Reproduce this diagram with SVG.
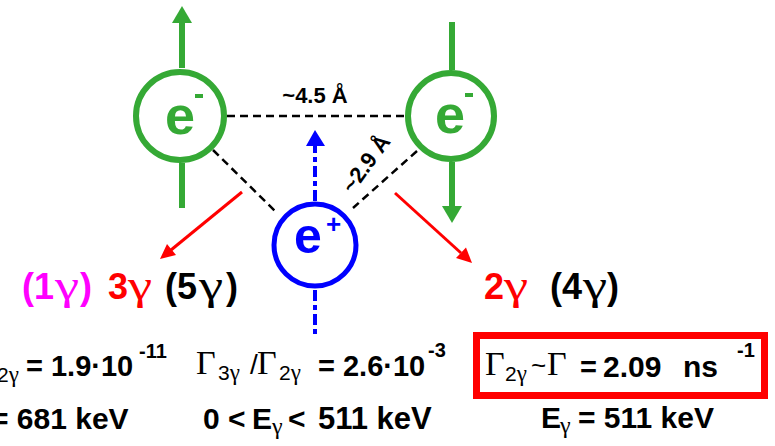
<svg xmlns="http://www.w3.org/2000/svg" width="775" height="446" viewBox="0 0 775 446">
<defs>
<style>
.sans{font-family:"Liberation Sans",Arial,sans-serif;}
.b{font-weight:bold;}
.ser{font-family:"Liberation Serif","Times New Roman",serif;font-weight:normal;}
.dash{stroke:#000;stroke-width:2.5;stroke-dasharray:8,5;fill:none;}
.gline{stroke:#35a935;stroke-width:6;fill:none;}
.gfill{fill:#35a935;}
.bline{stroke:#0000ff;stroke-width:4;stroke-dasharray:11,4,5,4;}
.rline{stroke:#ff0000;stroke-width:3;}
.big{font-size:36px;}
.bigg{font-size:42px;}
</style>
</defs>
<rect width="775" height="446" fill="#fff"/>

<g id="connectors">
<line class="dash" x1="227" y1="116" x2="405" y2="116"/>
<line class="dash" x1="213" y1="150" x2="275" y2="211"/>
<line class="dash" x1="417" y1="151" x2="353" y2="208"/>
<line class="gline" x1="182" y1="68" x2="182" y2="22"/>
<path class="gfill" d="M172,23 L182,6 L192,23 Z"/>
<line class="gline" x1="182" y1="163" x2="182" y2="208"/>
<line class="gline" x1="452" y1="22" x2="452" y2="70"/>
<line class="gline" x1="452" y1="162" x2="452" y2="207"/>
<path class="gfill" d="M442,206 L452,223 L462,206 Z"/>
<line class="bline" x1="315" y1="201" x2="315" y2="145"/>
<path d="M306,146 L315,130 L325,146 Z" fill="#0000ff"/>
<line class="bline" x1="315" y1="290" x2="315" y2="337"/>
<line class="rline" x1="242" y1="192" x2="171" y2="250"/>
<path d="M176,255 L160,259 L167,244 Z" fill="#ff0000"/>
<line class="rline" x1="395" y1="193" x2="461" y2="253"/>
<path d="M456,258 L472,263 L466,247.5 Z" fill="#ff0000"/>
<text class="sans b" x="315" y="103" font-size="22" text-anchor="middle">~4.5 Å</text>
<text class="sans b" font-size="22" text-anchor="middle" transform="translate(372,168) rotate(-54)">~2.9 Å</text>
</g>

<g id="electron-left">
<circle cx="180" cy="116" r="44" stroke="#35a935" stroke-width="6" fill="#fff"/>
<text class="sans b gfill" x="165" y="134" font-size="54">e</text>
<rect x="195" y="94" width="8" height="4" fill="#35a935"/>
</g>

<g id="electron-right">
<circle cx="451" cy="116" r="43" stroke="#35a935" stroke-width="6" fill="#fff"/>
<text class="sans b gfill" x="435" y="133" font-size="54">e</text>
<rect x="465" y="93" width="8" height="4" fill="#35a935"/>
</g>

<g id="positron">
<circle cx="315" cy="245" r="41" stroke="#0000ff" stroke-width="5" fill="#fff"/>
<text class="sans b" x="294" y="253" font-size="50" fill="#0000ff">e</text>
<text class="sans b" x="326" y="233" font-size="26" fill="#0000ff">+</text>
</g>

<g id="left-products">
<g fill="#ff00ff">
<text class="sans b big" x="22" y="299">(</text>
<text class="sans b big" x="34" y="299">1</text>
<text class="ser bigg" transform="translate(55,299) scale(1.3,1)">γ</text>
<text class="sans b big" x="80" y="299">)</text>
</g>
<g fill="#ff0000">
<text class="sans b big" x="108" y="299">3</text>
<text class="ser bigg" transform="translate(128,299) scale(1.3,1)">γ</text>
</g>
<g fill="#000">
<text class="sans b big" x="165" y="299">(</text>
<text class="sans b big" x="177" y="299">5</text>
<text class="ser bigg" transform="translate(199,299) scale(1.3,1)">γ</text>
<text class="sans b big" x="226" y="299">)</text>
</g>
</g>

<g id="right-products">
<g fill="#ff0000">
<text class="sans b big" x="484" y="299">2</text>
<text class="ser bigg" transform="translate(504,299) scale(1.3,1)">γ</text>
</g>
<g fill="#000">
<text class="sans b big" x="550" y="299">(</text>
<text class="sans b big" x="562" y="299">4</text>
<text class="ser bigg" transform="translate(583,299) scale(1.3,1)">γ</text>
<text class="sans b big" x="607" y="299">)</text>
</g>
</g>

<g id="left-rates">
<text class="sans" x="-3" y="382" font-size="21">2<tspan class="ser" font-size="23">γ</tspan></text>
<text class="sans b" x="26" y="376" font-size="29">= 1.9·10</text>
<text class="sans b" x="139" y="358" font-size="20">-11</text>
<text class="sans b" x="-9" y="429" font-size="30">= 681 keV</text>
</g>

<g id="middle-rates">
<text class="ser" x="196" y="374" font-size="34">Γ</text>
<text class="sans" x="218" y="380" font-size="21">3<tspan class="ser" font-size="23">γ</tspan></text>
<text class="sans" x="250" y="374" font-size="28">/</text>
<text class="ser" x="257" y="374" font-size="34">Γ</text>
<text class="sans" x="279" y="380" font-size="21">2<tspan class="ser" font-size="23">γ</tspan></text>
<text class="sans b" x="318" y="376" font-size="29">= 2.6·10</text>
<text class="sans b" x="428" y="357" font-size="20">-3</text>
<text class="sans b" x="203" y="429" font-size="30">0</text>
<text class="sans b" x="228" y="429" font-size="30">&lt;</text>
<text class="sans b" x="252" y="429" font-size="30">E</text>
<text class="ser" x="272" y="434" font-size="24">γ</text>
<text class="sans b" x="288" y="429" font-size="30">&lt;</text>
<text class="sans b" x="318" y="429" font-size="31">511 keV</text>
</g>

<g id="right-rates">
<rect x="476.5" y="335.5" width="288" height="60" fill="none" stroke="#ff0000" stroke-width="7"/>
<text class="ser" x="485" y="375" font-size="34">Γ</text>
<text class="sans" x="505" y="381" font-size="21">2<tspan class="ser" font-size="23">γ</tspan></text>
<text class="sans" x="531" y="374" font-size="26">~</text>
<text class="ser" x="547" y="375" font-size="34">Γ</text>
<text class="sans b" x="580" y="377" font-size="29">=</text>
<text class="sans b" x="603" y="377" font-size="30">2.09</text>
<text class="sans b" x="683" y="377" font-size="30">ns</text>
<text class="sans b" x="737" y="357" font-size="20">-1</text>
<text class="sans b" x="541" y="428" font-size="30">E</text>
<text class="ser" x="560" y="433" font-size="24">γ</text>
<text class="sans b" x="578" y="428" font-size="30">= 511 keV</text>
</g>
</svg>
